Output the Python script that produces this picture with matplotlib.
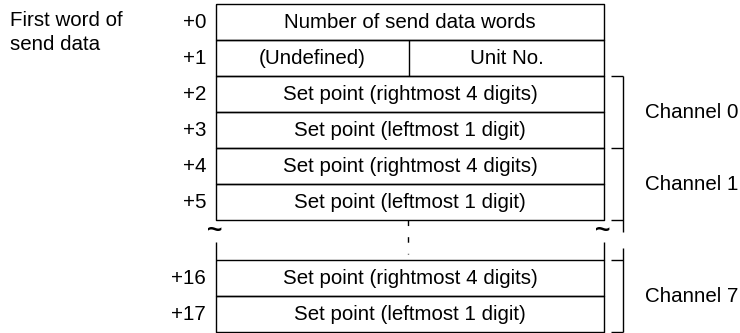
import matplotlib
matplotlib.use("Agg")
import matplotlib.pyplot as plt

plt.rcParams['font.family'] = ['Liberation Sans', 'DejaVu Sans']

# word offsets and contents
top_offsets = ['+0', '+1', '+2', '+3', '+4', '+5']
top_texts = ['Number of send data words', None,
             'Set point (rightmost 4 digits)', 'Set point (leftmost 1 digit)',
             'Set point (rightmost 4 digits)', 'Set point (leftmost 1 digit)']
split_texts = ['(Undefined)', 'Unit No.']
bottom_offsets = ['+16', '+17']
bottom_texts = ['Set point (rightmost 4 digits)', 'Set point (leftmost 1 digit)']
channels = ['Channel 0', 'Channel 1', 'Channel 7']

W, H = 740, 333
fig = plt.figure(figsize=(W / 100, H / 100), dpi=100)
ax = fig.add_axes([0, 0, 1, 1])
ax.set_xlim(0, W)
ax.set_ylim(H, 0)
ax.axis('off')

x0, x1 = 216, 604
xmid = 409
rh = 36
top0 = 4
bot0 = 260
fs = 14.8
lw = 1.0
kw = dict(color='black', lw=lw, solid_capstyle='butt')

# upper block
for i, (off, txt) in enumerate(zip(top_offsets, top_texts)):
    y = top0 + i * rh
    ax.plot([x0, x1, x1, x0, x0], [y, y, y + rh, y + rh, y], **kw)
    ax.text(206, y + rh / 2 + 1, off, ha='right', va='center', fontsize=fs)
    if txt is None:
        ax.plot([xmid, xmid], [y, y + rh], **kw)
        ax.text((x0 + xmid) / 2, y + rh / 2, split_texts[0], ha='center', va='center', fontsize=fs)
        ax.text((xmid + x1) / 2, y + rh / 2, split_texts[1], ha='center', va='center', fontsize=fs)
    else:
        ax.text((x0 + x1) / 2, y + rh / 2, txt, ha='center', va='center', fontsize=fs)

# lower block
for i, (off, txt) in enumerate(zip(bottom_offsets, bottom_texts)):
    y = bot0 + i * rh
    ax.plot([x0, x1, x1, x0, x0], [y, y, y + rh, y + rh, y], **kw)
    ax.text(206, y + rh / 2 + 1, off, ha='right', va='center', fontsize=fs)
    ax.text((x0 + x1) / 2, y + rh / 2, txt, ha='center', va='center', fontsize=fs)

# break between blocks
y_end = top0 + len(top_offsets) * rh
for x in (x0, x1):
    ax.plot([x, x], [242, bot0], **kw)
    ax.text(x - 1, 231, '~', ha='center', va='center', fontsize=19, fontweight='bold')
ax.plot([xmid - 1, xmid - 1], [y_end, bot0 - 6], color='black', lw=lw, dashes=(4, 8))

# brackets
bx, tx = 623, 611
ax.plot([bx, bx], [top0 + 2 * rh, 232], **kw)
for y in (top0 + 2 * rh, top0 + 4 * rh, y_end):
    ax.plot([tx, bx], [y, y], **kw)
ax.plot([bx, bx], [248, bot0 + 2 * rh], **kw)
for y in (bot0, bot0 + 2 * rh):
    ax.plot([tx, bx], [y, y], **kw)

ax.text(645, top0 + 3 * rh, channels[0], ha='left', va='center', fontsize=fs)
ax.text(645, top0 + 5 * rh, channels[1], ha='left', va='center', fontsize=fs)
ax.text(645, bot0 + rh, channels[2], ha='left', va='center', fontsize=fs)

ax.text(10, 20, 'First word of', ha='left', va='center', fontsize=fs)
ax.text(10, 44, 'send data', ha='left', va='center', fontsize=fs)

fig.savefig('out.png', dpi=100, facecolor='white')
